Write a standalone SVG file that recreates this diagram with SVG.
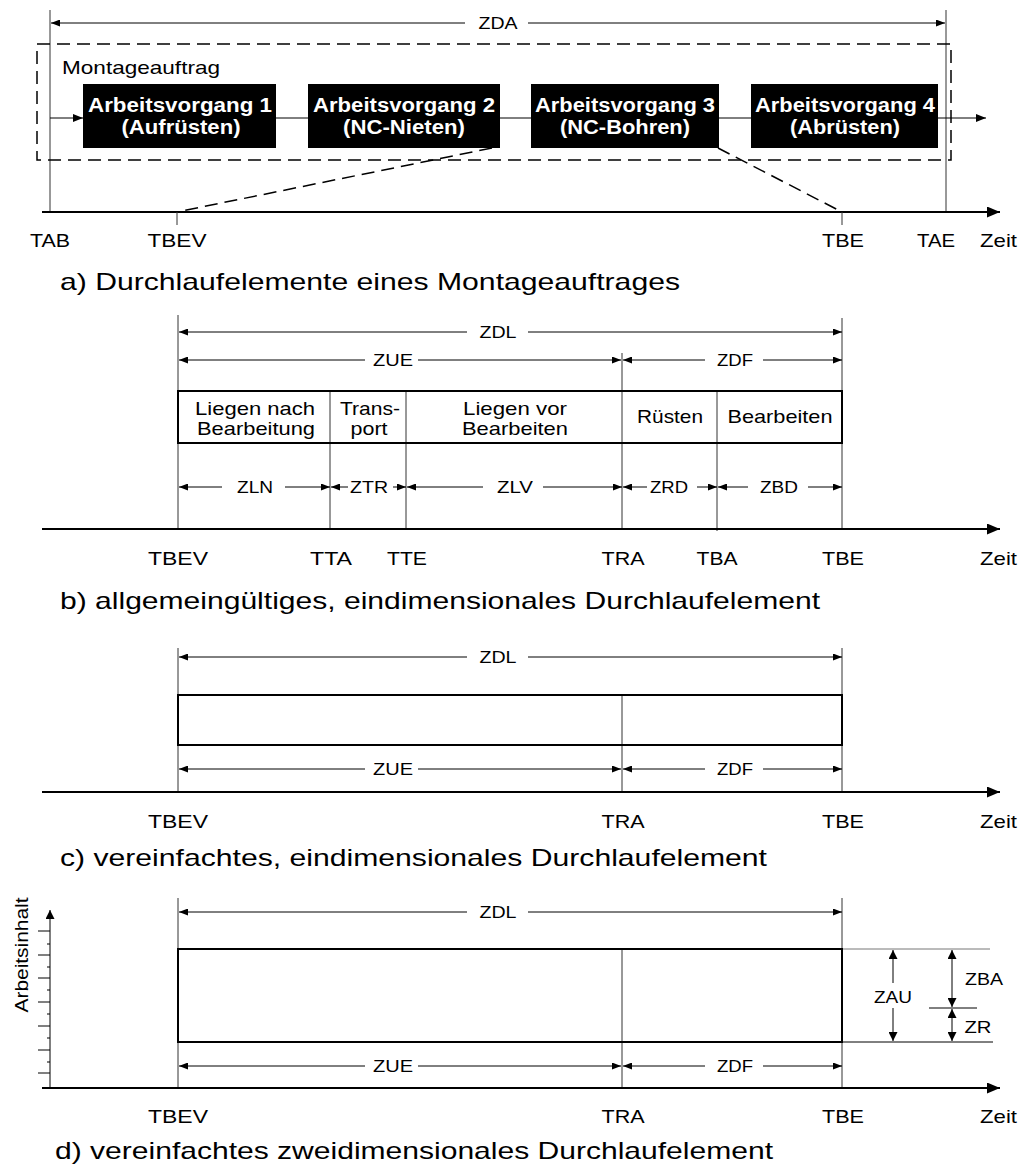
<svg xmlns="http://www.w3.org/2000/svg" width="1034" height="1167" viewBox="0 0 1034 1167">
  <style>
    text { font-family: "Liberation Sans", Arial, sans-serif; fill: #000; }
    .lbl { font-size: 19px; text-anchor: middle; }
    .lbs { font-size: 19px; }
    .dim { font-size: 17px; text-anchor: middle; }
    .cap { font-size: 24px; }
    .cell { font-size: 19px; text-anchor: middle; }
    .av { font-size: 20px; font-weight: bold; fill: #fff; text-anchor: middle; }
    .thin { stroke: #000; stroke-width: 1; fill: none; }
    .ref { stroke: #333; stroke-width: 1; fill: none; }
    .grey { stroke: #777; stroke-width: 1; fill: none; }
    .axis { stroke: #000; stroke-width: 2; fill: none; }
    .dash { stroke: #000; stroke-width: 1.5; stroke-dasharray: 13 7; fill: none; }
    .frame { stroke: #000; stroke-width: 2; fill: none; }
    .opbox { fill: #000; }
  </style>
  <defs>
    <marker id="a" markerWidth="9" markerHeight="7" refX="9" refY="3.5" orient="auto" markerUnits="userSpaceOnUse">
      <path d="M0,0 L9,3.5 L0,7 z" fill="#000"/>
    </marker>
    <marker id="v" markerWidth="9" markerHeight="9" refX="9" refY="4.5" orient="auto" markerUnits="userSpaceOnUse">
      <path d="M0,0 L9,4.5 L0,9 z" fill="#000"/>
    </marker>
    <marker id="af" markerWidth="10" markerHeight="8" refX="10" refY="4" orient="auto" markerUnits="userSpaceOnUse">
      <path d="M0,0 L10,4 L0,8 z" fill="#000"/>
    </marker>
    <marker id="ax" markerWidth="13" markerHeight="11" refX="13" refY="5.5" orient="auto" markerUnits="userSpaceOnUse">
      <path d="M0,0 L13,5.5 L0,11 z" fill="#000"/>
    </marker>
  </defs>

  <!-- ===== a) order with four operations ===== -->
  <g id="panel-a">
    <line class="ref" x1="50" y1="10" x2="50" y2="212"/>
    <line class="ref" x1="946" y1="10" x2="946" y2="212"/>
    <line class="thin" x1="465" y1="23" x2="51" y2="23" marker-end="url(#a)"/>
    <line class="thin" x1="528" y1="23" x2="945" y2="23" marker-end="url(#a)"/>
    <text class="dim" x="498" y="29" textLength="39" lengthAdjust="spacingAndGlyphs">ZDA</text>

    <g id="node-montageauftrag">
      <rect class="dash" x="37" y="44" width="914" height="116"/>
      <text class="lbs" x="62" y="74" textLength="158" lengthAdjust="spacingAndGlyphs">Montageauftrag</text>
    </g>

    <g id="node-av1">
      <rect class="opbox" x="83" y="84" width="193" height="64"/>
      <text class="av" x="180" y="112" textLength="184" lengthAdjust="spacingAndGlyphs">Arbeitsvorgang 1</text>
      <text class="av" x="181" y="134" textLength="119" lengthAdjust="spacingAndGlyphs">(Aufrüsten)</text>
    </g>
    <g id="node-av2">
      <rect class="opbox" x="308" y="84" width="192" height="64"/>
      <text class="av" x="404" y="112" textLength="182" lengthAdjust="spacingAndGlyphs">Arbeitsvorgang 2</text>
      <text class="av" x="404" y="134" textLength="122" lengthAdjust="spacingAndGlyphs">(NC-Nieten)</text>
    </g>
    <g id="node-av3">
      <rect class="opbox" x="531" y="84" width="188" height="64"/>
      <text class="av" x="625" y="112" textLength="180" lengthAdjust="spacingAndGlyphs">Arbeitsvorgang 3</text>
      <text class="av" x="625" y="134" textLength="130" lengthAdjust="spacingAndGlyphs">(NC-Bohren)</text>
    </g>
    <g id="node-av4">
      <rect class="opbox" x="751" y="84" width="187" height="64"/>
      <text class="av" x="845" y="112" textLength="180" lengthAdjust="spacingAndGlyphs">Arbeitsvorgang 4</text>
      <text class="av" x="845" y="134" textLength="110" lengthAdjust="spacingAndGlyphs">(Abrüsten)</text>
    </g>

    <g id="connectors">
      <line class="thin" x1="50" y1="118" x2="83" y2="118" marker-end="url(#af)"/>
      <line class="thin" x1="276" y1="118" x2="308" y2="118"/>
      <line class="thin" x1="500" y1="118" x2="531" y2="118"/>
      <line class="thin" x1="719" y1="118" x2="751" y2="118"/>
      <line class="thin" x1="938" y1="118" x2="986" y2="118" marker-end="url(#af)"/>
      <line class="dash" x1="492" y1="148" x2="177" y2="212"/>
      <line class="dash" x1="718" y1="148" x2="842" y2="212"/>
    </g>

    <line class="axis" x1="42" y1="212" x2="1000" y2="212" marker-end="url(#ax)"/>
    <line class="ref" x1="177" y1="212" x2="177" y2="225"/>
    <line class="ref" x1="842" y1="212" x2="842" y2="225"/>

    <text class="lbl" x="50" y="247" textLength="40" lengthAdjust="spacingAndGlyphs">TAB</text>
    <text class="lbl" x="177" y="247" textLength="59" lengthAdjust="spacingAndGlyphs">TBEV</text>
    <text class="lbl" x="843" y="247" textLength="42" lengthAdjust="spacingAndGlyphs">TBE</text>
    <text class="lbl" x="936" y="247" textLength="38" lengthAdjust="spacingAndGlyphs">TAE</text>
    <text class="lbs" x="980" y="247" textLength="37" lengthAdjust="spacingAndGlyphs">Zeit</text>

    <text class="cap" x="60" y="290" textLength="620" lengthAdjust="spacingAndGlyphs">a) Durchlaufelemente eines Montageauftrages</text>
  </g>

  <!-- ===== b) general one-dimensional element ===== -->
  <g id="panel-b">
    <line class="ref" x1="178" y1="315" x2="178" y2="529"/>
    <line class="ref" x1="330" y1="391" x2="330" y2="529"/>
    <line class="ref" x1="406" y1="391" x2="406" y2="529"/>
    <line class="ref" x1="622" y1="353" x2="622" y2="529"/>
    <line class="ref" x1="717" y1="391" x2="717" y2="531"/>
    <line class="ref" x1="842" y1="318" x2="842" y2="529"/>

    <line class="thin" x1="467" y1="332" x2="179" y2="332" marker-end="url(#a)"/>
    <line class="thin" x1="528" y1="332" x2="842" y2="332" marker-end="url(#a)"/>
    <text class="dim" x="498" y="338" textLength="37" lengthAdjust="spacingAndGlyphs">ZDL</text>

    <line class="thin" x1="365" y1="360" x2="179" y2="360" marker-end="url(#a)"/>
    <line class="thin" x1="418" y1="360" x2="621" y2="360" marker-end="url(#a)"/>
    <text class="dim" x="393" y="366" textLength="40" lengthAdjust="spacingAndGlyphs">ZUE</text>
    <line class="thin" x1="705" y1="360" x2="623" y2="360" marker-end="url(#a)"/>
    <line class="thin" x1="763" y1="360" x2="842" y2="360" marker-end="url(#a)"/>
    <text class="dim" x="735" y="366" textLength="36" lengthAdjust="spacingAndGlyphs">ZDF</text>

    <rect class="frame" x="178" y="391" width="664" height="52"/>
    <text class="cell" x="255" y="415" textLength="120" lengthAdjust="spacingAndGlyphs">Liegen nach</text>
    <text class="cell" x="256" y="435" textLength="118" lengthAdjust="spacingAndGlyphs">Bearbeitung</text>
    <text class="cell" x="370" y="415" textLength="60" lengthAdjust="spacingAndGlyphs">Trans-</text>
    <text class="cell" x="369" y="435" textLength="37" lengthAdjust="spacingAndGlyphs">port</text>
    <text class="cell" x="515" y="415" textLength="104" lengthAdjust="spacingAndGlyphs">Liegen vor</text>
    <text class="cell" x="515" y="435" textLength="106" lengthAdjust="spacingAndGlyphs">Bearbeiten</text>
    <text class="cell" x="670" y="423" textLength="66" lengthAdjust="spacingAndGlyphs">Rüsten</text>
    <text class="cell" x="780" y="423" textLength="105" lengthAdjust="spacingAndGlyphs">Bearbeiten</text>

    <line class="thin" x1="222" y1="487" x2="179" y2="487" marker-end="url(#a)"/>
    <line class="thin" x1="285" y1="487" x2="330" y2="487" marker-end="url(#a)"/>
    <text class="dim" x="255" y="493" textLength="36" lengthAdjust="spacingAndGlyphs">ZLN</text>
    <line class="thin" x1="348" y1="487" x2="331" y2="487" marker-end="url(#a)"/>
    <line class="thin" x1="393" y1="487" x2="406" y2="487" marker-end="url(#a)"/>
    <text class="dim" x="369" y="493" textLength="38" lengthAdjust="spacingAndGlyphs">ZTR</text>
    <line class="thin" x1="483" y1="487" x2="407" y2="487" marker-end="url(#a)"/>
    <line class="thin" x1="543" y1="487" x2="622" y2="487" marker-end="url(#a)"/>
    <text class="dim" x="515" y="493" textLength="36" lengthAdjust="spacingAndGlyphs">ZLV</text>
    <line class="thin" x1="647" y1="487" x2="623" y2="487" marker-end="url(#a)"/>
    <line class="thin" x1="697" y1="487" x2="717" y2="487" marker-end="url(#a)"/>
    <text class="dim" x="669" y="493" textLength="38" lengthAdjust="spacingAndGlyphs">ZRD</text>
    <line class="thin" x1="748" y1="487" x2="718" y2="487" marker-end="url(#a)"/>
    <line class="thin" x1="808" y1="487" x2="842" y2="487" marker-end="url(#a)"/>
    <text class="dim" x="779" y="493" textLength="38" lengthAdjust="spacingAndGlyphs">ZBD</text>

    <line class="axis" x1="42" y1="529" x2="1000" y2="529" marker-end="url(#ax)"/>
    <text class="lbl" x="178" y="565" textLength="60" lengthAdjust="spacingAndGlyphs">TBEV</text>
    <text class="lbl" x="331" y="565" textLength="42" lengthAdjust="spacingAndGlyphs">TTA</text>
    <text class="lbl" x="407" y="565" textLength="40" lengthAdjust="spacingAndGlyphs">TTE</text>
    <text class="lbl" x="623" y="565" textLength="43" lengthAdjust="spacingAndGlyphs">TRA</text>
    <text class="lbl" x="717" y="565" textLength="41" lengthAdjust="spacingAndGlyphs">TBA</text>
    <text class="lbl" x="843" y="565" textLength="42" lengthAdjust="spacingAndGlyphs">TBE</text>
    <text class="lbs" x="980" y="565" textLength="37" lengthAdjust="spacingAndGlyphs">Zeit</text>

    <text class="cap" x="60" y="609" textLength="760" lengthAdjust="spacingAndGlyphs">b) allgemeingültiges, eindimensionales Durchlaufelement</text>
  </g>

  <!-- ===== c) simplified one-dimensional element ===== -->
  <g id="panel-c">
    <line class="ref" x1="178" y1="648" x2="178" y2="792"/>
    <line class="ref" x1="622" y1="695" x2="622" y2="792"/>
    <line class="ref" x1="842" y1="648" x2="842" y2="792"/>

    <line class="thin" x1="467" y1="657" x2="179" y2="657" marker-end="url(#a)"/>
    <line class="thin" x1="528" y1="657" x2="842" y2="657" marker-end="url(#a)"/>
    <text class="dim" x="498" y="663" textLength="37" lengthAdjust="spacingAndGlyphs">ZDL</text>

    <rect class="frame" x="178" y="695" width="664" height="50"/>

    <line class="thin" x1="365" y1="769" x2="179" y2="769" marker-end="url(#a)"/>
    <line class="thin" x1="418" y1="769" x2="621" y2="769" marker-end="url(#a)"/>
    <text class="dim" x="393" y="775" textLength="40" lengthAdjust="spacingAndGlyphs">ZUE</text>
    <line class="thin" x1="705" y1="769" x2="623" y2="769" marker-end="url(#a)"/>
    <line class="thin" x1="763" y1="769" x2="842" y2="769" marker-end="url(#a)"/>
    <text class="dim" x="735" y="775" textLength="36" lengthAdjust="spacingAndGlyphs">ZDF</text>

    <line class="axis" x1="42" y1="792" x2="1000" y2="792" marker-end="url(#ax)"/>
    <text class="lbl" x="178" y="828" textLength="60" lengthAdjust="spacingAndGlyphs">TBEV</text>
    <text class="lbl" x="623" y="828" textLength="43" lengthAdjust="spacingAndGlyphs">TRA</text>
    <text class="lbl" x="843" y="828" textLength="42" lengthAdjust="spacingAndGlyphs">TBE</text>
    <text class="lbs" x="980" y="828" textLength="37" lengthAdjust="spacingAndGlyphs">Zeit</text>

    <text class="cap" x="60" y="866" textLength="707" lengthAdjust="spacingAndGlyphs">c) vereinfachtes, eindimensionales Durchlaufelement</text>
  </g>

  <!-- ===== d) simplified two-dimensional element ===== -->
  <g id="panel-d">
    <!-- work content axis with ticks -->
    <line class="thin" x1="50" y1="1088" x2="50" y2="910" marker-end="url(#v)"/>
    <path class="thin" d="M38,931H50 M47,944H50 M38,955H50 M47,967H50 M38,978H50 M47,990H50 M38,1002H50 M47,1014H50 M38,1026H50 M47,1038H50 M38,1050H50 M47,1062H50 M38,1073H50"/>
    <text class="lbs" transform="translate(28,955) rotate(-90)" text-anchor="middle" textLength="115" lengthAdjust="spacingAndGlyphs">Arbeitsinhalt</text>

    <line class="ref" x1="178" y1="898" x2="178" y2="1088"/>
    <line class="ref" x1="622" y1="949" x2="622" y2="1088"/>
    <line class="ref" x1="842" y1="898" x2="842" y2="1088"/>

    <line class="thin" x1="467" y1="912" x2="179" y2="912" marker-end="url(#a)"/>
    <line class="thin" x1="528" y1="912" x2="842" y2="912" marker-end="url(#a)"/>
    <text class="dim" x="498" y="918" textLength="37" lengthAdjust="spacingAndGlyphs">ZDL</text>

    <rect class="frame" x="178" y="949" width="664" height="93"/>

    <line class="grey" x1="843" y1="949" x2="990" y2="949"/>
    <line class="thin" x1="843" y1="1042" x2="993" y2="1042"/>
    <line class="thin" x1="929" y1="1008" x2="977" y2="1008"/>

    <line class="thin" x1="893" y1="983" x2="893" y2="950" marker-end="url(#v)"/>
    <line class="thin" x1="893" y1="1008" x2="893" y2="1041" marker-end="url(#v)"/>
    <text class="dim" x="893" y="1003" textLength="38" lengthAdjust="spacingAndGlyphs">ZAU</text>

    <line class="thin" x1="952" y1="980" x2="952" y2="950" marker-end="url(#v)"/>
    <line class="thin" x1="952" y1="980" x2="952" y2="1007" marker-end="url(#v)"/>
    <text class="dim" x="984" y="985" textLength="38" lengthAdjust="spacingAndGlyphs">ZBA</text>
    <line class="thin" x1="952" y1="1025" x2="952" y2="1009" marker-end="url(#v)"/>
    <line class="thin" x1="952" y1="1025" x2="952" y2="1041" marker-end="url(#v)"/>
    <text class="dim" x="978" y="1033" textLength="27" lengthAdjust="spacingAndGlyphs">ZR</text>

    <line class="thin" x1="365" y1="1066" x2="179" y2="1066" marker-end="url(#a)"/>
    <line class="thin" x1="418" y1="1066" x2="621" y2="1066" marker-end="url(#a)"/>
    <text class="dim" x="393" y="1072" textLength="40" lengthAdjust="spacingAndGlyphs">ZUE</text>
    <line class="thin" x1="705" y1="1066" x2="623" y2="1066" marker-end="url(#a)"/>
    <line class="thin" x1="763" y1="1066" x2="842" y2="1066" marker-end="url(#a)"/>
    <text class="dim" x="735" y="1072" textLength="36" lengthAdjust="spacingAndGlyphs">ZDF</text>

    <line class="axis" x1="42" y1="1088" x2="1000" y2="1088" marker-end="url(#ax)"/>
    <text class="lbl" x="178" y="1123" textLength="60" lengthAdjust="spacingAndGlyphs">TBEV</text>
    <text class="lbl" x="623" y="1123" textLength="43" lengthAdjust="spacingAndGlyphs">TRA</text>
    <text class="lbl" x="843" y="1123" textLength="42" lengthAdjust="spacingAndGlyphs">TBE</text>
    <text class="lbs" x="980" y="1123" textLength="37" lengthAdjust="spacingAndGlyphs">Zeit</text>

    <text class="cap" x="55" y="1159" textLength="718" lengthAdjust="spacingAndGlyphs">d) vereinfachtes zweidimensionales Durchlaufelement</text>
  </g>
</svg>
